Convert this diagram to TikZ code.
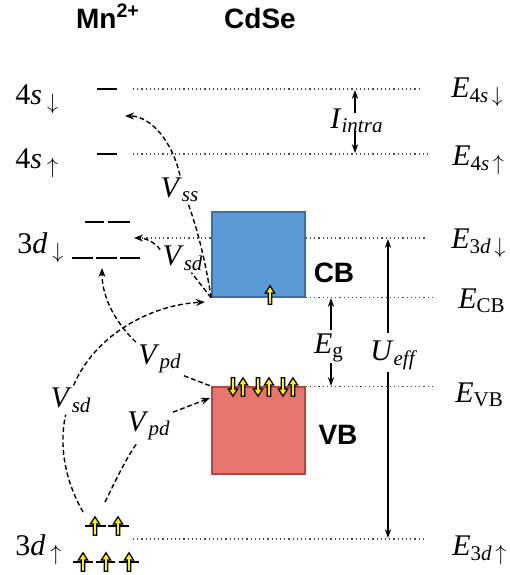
\documentclass[tikz,border=0pt]{standalone}
\usepackage{fontspec}
\setmainfont{Liberation Serif}
\setsansfont{Liberation Sans}
\usetikzlibrary{positioning,arrows.meta}
\definecolor{cbfill}{HTML}{5B9BD5}
\definecolor{cbedge}{HTML}{3A6EA5}
\definecolor{vbfill}{HTML}{E8756D}
\definecolor{vbedge}{HTML}{B4463F}
\definecolor{spin}{HTML}{FFF200}
\definecolor{ghost}{HTML}{DADADA}
\definecolor{dots}{HTML}{4D4D4D}
\newcommand{\orb}[3]{#1\textit{#2}\,\textsubscript{$#3$}}
\newcommand{\elev}[1]{\textit{E}\textsubscript{#1}}
\newcommand{\coup}[2]{\textit{#1}\textsubscript{\itshape #2}}

\begin{document}
\begin{tikzpicture}[
  x=0.5pt, y=-0.5pt,
  font=\fontsize{15}{17}\selectfont,
  head/.style={font=\sffamily\bfseries\fontsize{14}{16}\selectfont, anchor=base},
  edge/.style={inner sep=0pt, anchor=base west},
  lvl/.style={line width=1.3pt},
  guide/.style={draw=dots, line width=0.6pt, dash pattern=on 0.6pt off 1.5pt},
  band/.style={line width=0.8pt, minimum width=46.5pt, minimum height=42.5pt, inner sep=0pt},
  gap/.style={-{Stealth[length=4.5pt,width=3.2pt]}, line width=0.8pt},
  hop/.style={line width=0.7pt, dash pattern=on 2.4pt off 1.4pt},
  hoparr/.style={hop, -{Stealth[length=4.5pt,width=3.5pt]}},
  tag/.style={inner sep=1pt},
  spinbody/.style={draw=black, line width=0.65pt, fill=spin},
  spinup/.pic={\path[spinbody,pic actions] (-0.9pt,-4.6pt) -- (0.9pt,-4.6pt) -- (0.9pt,1pt) -- (2.3pt,1pt)
    -- (0pt,4.6pt) -- (-2.3pt,1pt) -- (-0.9pt,1pt) -- cycle;},
  spindown/.pic={\path[spinbody,pic actions] (-0.9pt,4.6pt) -- (0.9pt,4.6pt) -- (0.9pt,-1pt) -- (2.3pt,-1pt)
    -- (0pt,-4.6pt) -- (-2.3pt,-1pt) -- (-0.9pt,-1pt) -- cycle;}
]
  \useasboundingbox (0,0) rectangle (510,575);

  % headings
  \node[head] (mn) at (108,28) {Mn\textsuperscript{2+}};
  \node[head] (cdse) at (260,28) {CdSe};

  % Mn levels, left labels
  \node[edge] (o4sdn) at (15,104) {\orb{4}{s}{\downarrow}};
  \node[edge] (o4sup) at (15,168) {\orb{4}{s}{\uparrow}};
  \node[edge] (o3ddn) at (17,253) {\orb{3}{d}{\downarrow}};
  \node[edge] (o3dup) at (15,555) {\orb{3}{d}{\uparrow}};

  % energy labels, right
  \node[edge] (e4sdn) at (451,97)  {\elev{4\textit{s}\,$\downarrow$}};
  \node[edge] (e4sup) at (452,165) {\elev{4\textit{s}\,$\uparrow$}};
  \node[edge] (e3ddn) at (451,248) {\elev{3\textit{d}\,$\downarrow$}};
  \node[edge] (ecb)   at (458,308) {\elev{CB}};
  \node[edge] (evb)   at (455,402) {\elev{VB}};
  \node[edge] (e3dup) at (452,555) {\elev{3\textit{d}\,$\uparrow$}};

  \coordinate (l4sdn) at (133,89);
  \coordinate (l4sup) at (133,154);
  \coordinate (l3ddn) at (138,238);
  \coordinate (l3dup) at (133,539);

  % CdSe bands
  \node[band, fill=cbfill, draw=cbedge] (cb) at (258.5,254.5) {};
  \node[band, fill=vbfill, draw=vbedge, minimum height=43.5pt] (vb) at (258.5,430.5) {};

  % dotted guides
  \draw[guide] (l4sdn) -- ([xshift=-15pt]e4sdn.west |- l4sdn);
  \draw[guide] (l4sup) -- ([xshift=-11.5pt]e4sup.west |- l4sup);
  \draw[guide] (cb.south east) -- ([xshift=-13pt]ecb.west |- cb.south east);
  \draw[guide] (vb.north east) -- ([xshift=-11.5pt]evb.west |- vb.north east);
  \draw[guide] (l3dup) -- ([xshift=-13pt]e3dup.west |- l3dup);
  \draw[guide] (l3ddn) -- (cb.west |- l3ddn);
  \draw[guide] (cb.east |- l3ddn) -- ([xshift=-12.5pt]e3ddn.west |- l3ddn);

  \node[tag] at (334,273) (cbname) {\sffamily\bfseries\fontsize{14}{16}\selectfont CB};
  \node[tag] at (338,435) (vbname) {\sffamily\bfseries\fontsize{14}{16}\selectfont VB};

  % level dashes
  \draw[lvl] (97,89) -- (117,89);
  \draw[lvl] (97,154) -- (117,154);
  \foreach \a/\b in {85/104,108/130} \draw[lvl] (\a,222) -- (\b,222);
  \foreach \a/\b in {72/93,96/117,120/140} \draw[lvl] (\a,258) -- (\b,258);
  \foreach \a/\b in {85/106,108/129} \draw[lvl] (\a,526) -- (\b,526);
  \foreach \a/\b in {73/93,96/115,119/139} \draw[lvl] (\a,562) -- (\b,562);

  % spins
  \foreach \x in {95,118} \pic at (\x,526) {spinup};
  \foreach \x in {83,106,129} \pic at (\x,562) {spinup};
  \pic at (270,295) {spinup};
  \foreach \x in {233,258,283} \pic at (\x,387) {spindown};
  \foreach \x in {243,293} \pic at (\x,387) {spinup};
  \pic[fill=ghost, draw=gray!70] at (269,387) {spinup};

  % gaps
  \node[tag] (intra) at (357,121) {\coup{I}{intra}};
  \coordinate (i4sdn) at (355,90);
  \coordinate (i4sup) at (355,153);
  \draw[gap] ([yshift=4pt]intra.center -| i4sdn) -- (i4sdn);
  \draw[gap] ([yshift=-5pt]intra.center -| i4sup) -- (i4sup);

  \node[tag] (eg) at (329,348) {\textit{E}\textsubscript{g}};
  \coordinate (gcb) at (331,298);
  \coordinate (gvb) at (331,386);
  \draw[gap] ([yshift=9pt]eg.center -| gcb) -- (gcb);
  \draw[gap] ([yshift=-7.5pt]eg.center -| gvb) -- (gvb);

  \node[tag] (ueff) at (393,355) {\coup{U}{eff}};
  \coordinate (u3ddn) at (388,239);
  \coordinate (u3dup) at (388,538);
  \draw[gap] ([yshift=11pt]ueff.center -| u3ddn) -- (u3ddn);
  \draw[gap] ([yshift=-8.5pt]ueff.center -| u3dup) -- (u3dup);

  % hybridisation paths
  \node[tag] (vss)  at (180,190) {\coup{V}{ss}};
  \node[tag] (vsd1) at (183,258) {\coup{V}{sd}};
  \node[tag] (vpd1) at (160,359) {\coup{V}{pd}};
  \node[tag] (vsd2) at (71,400)  {\coup{V}{sd}};
  \node[tag] (vpd2) at (149,426) {\coup{V}{pd}};

  \coordinate (sstip) at (125,116);
  \coordinate (sdtip) at (134,238);
  \coordinate (pdtip) at (102,268);
  \coordinate (sd2tip) at (205,302);
  \coordinate (pd2tip) at (210,398);
  \coordinate (sd2src) at (83,512);
  \coordinate (pd2src) at (105,502);

  \draw[hop] (cb.south west) .. controls (206,265) and (198,230) .. (vss.-60);
  \draw[hoparr] (vss.north) .. controls (172,140) and (150,116) .. (sstip);

  \draw[hop] (cb.south west) -- (vsd1.-60);
  \draw[hoparr] (vsd1.160) .. controls (155,242) and (145,238) .. (sdtip);

  \draw[hop] (vpd1.-35) -- (vb.north west);
  \draw[hoparr] (vpd1.north west) .. controls (118,325) and (102,300) .. (pdtip);

  \draw[hop] (sd2src) .. controls (62,475) and (60,440) .. (vsd2.-110);
  \draw[hoparr] (vsd2.80) .. controls (95,335) and (150,305) .. (sd2tip);

  \draw[hop] (pd2src) .. controls (115,482) and (125,460) .. (vpd2.-125);
  \draw[hoparr] (vpd2.30) -- (pd2tip);

\end{tikzpicture}
\end{document}
